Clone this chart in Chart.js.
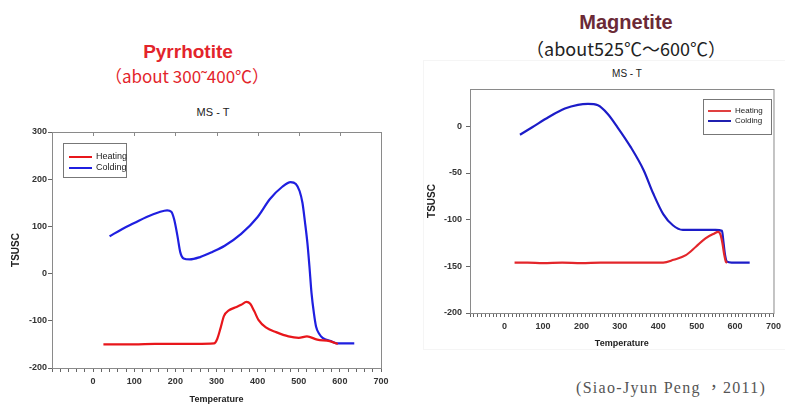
<!DOCTYPE html>
<html>
<head>
<meta charset="utf-8">
<script src="https://cdn.jsdelivr.net/npm/chart.js@4.4.1/dist/chart.umd.min.js"></script>
<style>
  body { margin: 0; width: 785px; height: 405px; background: #fff; position: relative; overflow: hidden; font-family: "Liberation Sans", Arial, sans-serif; }
  .abs { position: absolute; white-space: nowrap; }
  .ctr { transform: translate(-50%, -50%); }
  .legend { position: absolute; border: 1px solid #777; background: #fff; font-family: "Liberation Sans", Arial, sans-serif; color: #222; }
  .legend div { position: relative; height: 11px; line-height: 11px; }
  .legend span.sw { display: inline-block; width: 23px; height: 2px; vertical-align: middle; margin-right: 4px; }
  .frame { position: absolute; left: 423px; top: 60px; width: 370px; height: 288px; border: 1px solid #f5f5f5; }
</style>
</head>
<body>
<div class="frame"></div>

<div class="abs ctr" style="left:188px;top:52px;color:#e3242b;font:bold 19px 'Liberation Sans',Arial,sans-serif;">Pyrrhotite</div>
<div class="abs ctr" style="left:187px;top:75px;color:#e3242b;font:17px 'Noto Sans CJK TC',sans-serif;">（about 300˜400℃）</div>
<div class="abs ctr" style="left:213px;top:112px;color:#222;font:11px 'Liberation Sans',Arial,sans-serif;">MS - T</div>

<div class="abs ctr" style="left:626px;top:22px;color:#6b2a37;font:bold 20px 'Liberation Sans',Arial,sans-serif;">Magnetite</div>
<div class="abs ctr" style="left:626px;top:48px;color:#222;font:18px 'Noto Sans CJK TC',sans-serif;">（about525℃～600℃）</div>
<div class="abs ctr" style="left:627px;top:73px;color:#222;font:10px 'Liberation Sans',Arial,sans-serif;">MS - T</div>

<div class="abs" style="left:0;top:100px;width:395px;height:305px;"><canvas id="pyr"></canvas></div>
<div class="abs" style="left:405px;top:60px;width:380px;height:295px;"><canvas id="mag"></canvas></div>

<div class="legend" style="left:63px;top:143px;width:62px;height:33px;font-size:9px;">
  <div style="top:7px;left:5px;"><span class="sw" style="background:#e8161b"></span>Heating</div>
  <div style="top:7px;left:5px;"><span class="sw" style="background:#1f1fe0"></span>Colding</div>
</div>
<div class="legend" style="left:703px;top:99px;width:67px;height:34px;font-size:8px;">
  <div style="top:6px;left:4px;height:10px;line-height:10px;"><span class="sw" style="background:#e04040"></span>Heating</div>
  <div style="top:6px;left:4px;height:10px;line-height:10px;"><span class="sw" style="background:#2020b0"></span>Colding</div>
</div>

<div class="abs" style="left:576px;top:374px;color:#555;font:16px 'Liberation Serif',serif;letter-spacing:1.3px;">(Siao-Jyun Peng<span style="font-family:'Noto Sans CJK TC';"> ，</span>2011)</div>

<script>
// Pyrrhotite MS-T curves (temperature, susceptibility)
const pyrHeatT = [25, 60, 100, 150, 200, 250, 294, 302, 310, 318, 330, 345, 360, 373, 382, 392, 402, 420, 445, 475, 500, 520, 545, 575, 595];
const pyrHeatM = [-150, -150, -150, -149, -149, -149, -148, -138, -115, -90, -78, -72, -66, -60, -64, -80, -98, -114, -124, -133, -136, -133, -140, -143, -149];
const pyrCoolT = [40, 70, 100, 130, 160, 180, 190, 197, 205, 212, 220, 235, 260, 290, 320, 360, 400, 430, 460, 480, 493, 502, 509, 515, 521, 526, 531, 537, 542, 550, 558, 578, 594, 635];
const pyrCoolM = [79, 94, 107, 120, 130, 134, 131, 115, 80, 45, 32, 30, 35, 46, 59, 84, 120, 158, 184, 194, 190, 175, 150, 110, 65, 15, -41, -85, -112, -128, -136, -143, -148, -148];

// Magnetite MS-T curves
const magHeatT = [26, 60, 100, 150, 200, 250, 300, 350, 400, 413, 440, 472, 498, 523, 545, 556, 562, 567, 572, 576, 580];
const magHeatM = [-146, -146, -146.5, -146, -146.5, -146, -146, -146, -146, -146, -143, -138, -129, -120, -115, -113, -116, -125, -138, -145, -146];
const magCoolT = [40, 72, 115, 157, 191, 217, 243, 268, 294, 328, 362, 387, 413, 438, 464, 498, 549, 566, 570, 574, 579, 591, 638];
const magCoolM = [-9, -1, 10, 19, 23, 24, 22.5, 13.5, -1, -22, -47, -72, -94, -106, -111, -111, -111, -112, -125, -138, -145, -146, -146];

// axis ticks
const pyrXTicks = [];
for (let v = -100; v <= 700; v += 20) pyrXTicks.push(v);
const pyrYTicks = [-200, -100, 0, 100, 200, 300];
const magXTicks = [];
for (let v = -90; v <= 700; v += 10) magXTicks.push(v);
const magYTicks = [-200, -150, -100, -50, 0];

const heatColor = '#e8161b';
const coolColor = '#1f1fe0';
const fontFamily = "'Liberation Sans', Arial, sans-serif";

function pairs(xs, ys) {
  return xs.map((x, i) => ({ x: x, y: ys[i] }));
}

// box round the plot area + inward ticks on the top edge
const frameBox = {
  id: 'frameBox',
  afterDraw(chart, args, opts) {
    const a = chart.chartArea;
    const ctx = chart.ctx;
    ctx.save();
    ctx.strokeStyle = '#8a8a8a';
    ctx.lineWidth = 1;
    ctx.strokeRect(a.left + 0.5, a.top + 0.5, a.right - a.left, a.bottom - a.top);
    if (opts.topTicks) {
      const xs = chart.scales.x;
      xs.ticks.forEach(t => {
        if (t.value % 100 !== 0) return;
        const px = Math.round(xs.getPixelForValue(t.value)) + 0.5;
        ctx.beginPath();
        ctx.moveTo(px, a.top);
        ctx.lineTo(px, a.top + 4);
        ctx.stroke();
      });
    }
    ctx.restore();
  }
};

function makeChart(id, cfg) {
  return new Chart(document.getElementById(id), {
    type: 'line',
    data: {
      datasets: [
        { label: 'Heating', data: cfg.heat, borderColor: cfg.heatColor, borderWidth: 2.2, pointRadius: 0, cubicInterpolationMode: 'monotone' },
        { label: 'Colding', data: cfg.cool, borderColor: cfg.coolColor, borderWidth: 2.2, pointRadius: 0, cubicInterpolationMode: 'monotone' }
      ]
    },
    options: {
      responsive: true,
      maintainAspectRatio: false,
      animation: false,
      layout: { padding: cfg.padding },
      plugins: {
        legend: { display: false },
        tooltip: { enabled: false },
        frameBox: { topTicks: cfg.topTicks }
      },
      scales: {
        x: {
          type: 'linear',
          min: cfg.xMin, max: 700,
          afterBuildTicks: s => { s.ticks = cfg.xTicks.map(v => ({ value: v })); },
          afterFit: s => { s.height = cfg.xHeight; },
          border: { display: true, color: '#8a8a8a' },
          grid: { drawOnChartArea: false, drawTicks: true, tickLength: 4, color: '#666' },
          ticks: {
            autoSkip: false, maxRotation: 0, padding: 4,
            color: '#333', font: { family: fontFamily, size: 9, weight: 'bold' },
            callback: v => (v >= 0 && v % 100 === 0 ? v : '')
          },
          title: { display: true, text: 'Temperature', color: '#222', font: { family: fontFamily, size: 9, weight: 'bold' }, padding: { top: 0, bottom: cfg.xTitlePad } }
        },
        y: {
          min: cfg.yMin, max: cfg.yMax,
          afterBuildTicks: s => { s.ticks = cfg.yTicks.map(v => ({ value: v })); },
          afterFit: s => { s.width = cfg.yWidth; },
          border: { display: true, color: '#8a8a8a' },
          grid: { drawOnChartArea: false, drawTicks: true, tickLength: 4, color: '#666' },
          ticks: { padding: cfg.yTickPad, color: '#333', font: { family: fontFamily, size: 9, weight: 'bold' } },
          title: { display: true, text: 'TSUSC', color: '#222', font: { family: fontFamily, size: 10, weight: 'bold' }, padding: { top: cfg.yTitlePad, bottom: 0 } }
        }
      }
    },
    plugins: [frameBox]
  });
}

makeChart('pyr', {
  heat: pairs(pyrHeatT, pyrHeatM), cool: pairs(pyrCoolT, pyrCoolM),
  heatColor: heatColor, coolColor: coolColor,
  xMin: -100, yMin: -200, yMax: 300,
  xTicks: pyrXTicks, yTicks: pyrYTicks,
  padding: { top: 32, right: 14, left: 0, bottom: 0 },
  xHeight: 37, yWidth: 52, xTitlePad: 0, yTitlePad: 10, yTickPad: 1,
  topTicks: true
});

makeChart('mag', {
  heat: pairs(magHeatT, magHeatM), cool: pairs(magCoolT, magCoolM),
  heatColor: '#e3262b', coolColor: '#1c1cc8',
  xMin: -90, yMin: -200, yMax: 40,
  xTicks: magXTicks, yTicks: magYTicks,
  padding: { top: 29, right: 4, left: 0, bottom: 0 },
  xHeight: 42, yWidth: 65, xTitlePad: 6, yTitlePad: 21, yTickPad: 4,
  topTicks: false
});
</script>
</body>
</html>
